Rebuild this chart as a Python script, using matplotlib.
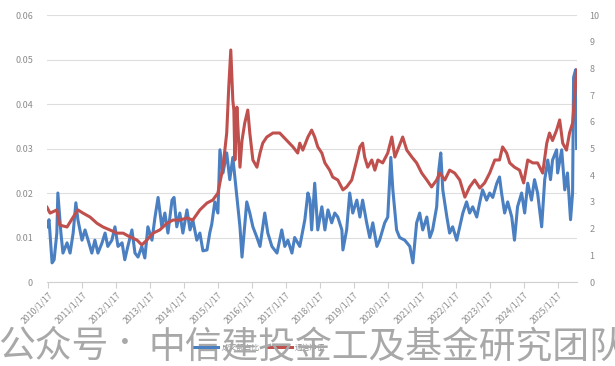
import matplotlib
matplotlib.use("Agg")
import numpy as np
from matplotlib import pyplot as plt

plt.rcParams['font.family'] = ['Noto Sans CJK SC', 'DejaVu Sans']

# blue series (left axis), decimal years
blue_t = [2010.01, 2010.07, 2010.16, 2010.22, 2010.30, 2010.33, 2010.42, 2010.48, 2010.60, 2010.69,
          2010.78, 2010.86, 2010.92, 2011.04, 2011.13, 2011.22, 2011.33, 2011.42, 2011.51, 2011.63,
          2011.72, 2011.80, 2011.92, 2012.01, 2012.10, 2012.22, 2012.30, 2012.39, 2012.51, 2012.60,
          2012.69, 2012.80, 2012.89, 2012.98, 2013.10, 2013.19, 2013.28, 2013.39, 2013.48, 2013.57,
          2013.69, 2013.75, 2013.83, 2013.92, 2014.01, 2014.13, 2014.22, 2014.30, 2014.42, 2014.51,
          2014.60, 2014.72, 2014.80, 2014.86, 2014.95, 2015.04, 2015.10, 2015.19, 2015.30, 2015.39,
          2015.48, 2015.60, 2015.69, 2015.75, 2015.89, 2015.98, 2016.07, 2016.19, 2016.28, 2016.42,
          2016.51, 2016.63, 2016.78, 2016.92, 2017.01, 2017.10, 2017.22, 2017.30, 2017.45, 2017.60,
          2017.69, 2017.75, 2017.80, 2017.89, 2017.98, 2018.10, 2018.19, 2018.28, 2018.39, 2018.48,
          2018.57, 2018.69, 2018.72, 2018.83, 2018.92, 2019.01, 2019.13, 2019.22, 2019.30, 2019.42,
          2019.51, 2019.60, 2019.72, 2019.80, 2019.95, 2020.04, 2020.13, 2020.19, 2020.30, 2020.39,
          2020.54, 2020.69, 2020.78, 2020.89, 2020.98, 2021.07, 2021.19, 2021.28, 2021.36, 2021.48,
          2021.54, 2021.60, 2021.66, 2021.78, 2021.86, 2021.95, 2022.07, 2022.16, 2022.25, 2022.36,
          2022.45, 2022.54, 2022.66, 2022.75, 2022.83, 2022.95, 2023.04, 2023.13, 2023.25, 2023.33,
          2023.39, 2023.48, 2023.57, 2023.69, 2023.77, 2023.86, 2023.98, 2024.07, 2024.16, 2024.27,
          2024.36, 2024.45, 2024.57, 2024.66, 2024.75, 2024.83, 2024.89, 2025.01, 2025.04, 2025.16,
          2025.25, 2025.33, 2025.42, 2025.48, 2025.51, 2025.57, 2025.60]
blue_v = [0.0124, 0.014, 0.0043, 0.005, 0.011, 0.020, 0.011, 0.0065, 0.0088, 0.0065,
          0.011, 0.0178, 0.014, 0.0094, 0.0117, 0.0094, 0.0065, 0.0094, 0.0065, 0.0088,
          0.011, 0.008, 0.0094, 0.0124, 0.008, 0.0088, 0.005, 0.008, 0.0117, 0.0065,
          0.0056, 0.008, 0.0054, 0.0124, 0.0094, 0.0146, 0.019, 0.0124, 0.0155, 0.011,
          0.0184, 0.019, 0.0124, 0.0155, 0.011, 0.0162, 0.0117, 0.014, 0.0094, 0.011,
          0.007, 0.0072, 0.011, 0.013, 0.018, 0.0155, 0.0297, 0.0245, 0.029, 0.023,
          0.028, 0.019, 0.0124, 0.0056, 0.018, 0.0155, 0.0124, 0.010, 0.008, 0.0155,
          0.011, 0.008, 0.0065, 0.0117, 0.008, 0.0094, 0.0065, 0.010, 0.008, 0.014,
          0.020, 0.0184, 0.0117, 0.0222, 0.0117, 0.0169, 0.0117, 0.0162, 0.0133, 0.0155,
          0.0146, 0.0117, 0.0072, 0.0117, 0.020, 0.0155, 0.0184, 0.0146, 0.0184, 0.0133,
          0.010, 0.0133, 0.008, 0.0094, 0.0133, 0.0146, 0.028, 0.0207, 0.0117, 0.010,
          0.0094, 0.008, 0.0043, 0.0133, 0.0155, 0.0117, 0.0146, 0.010, 0.0117, 0.0169,
          0.025, 0.029, 0.0207, 0.0146, 0.011, 0.0124, 0.0094, 0.0124, 0.0155, 0.018,
          0.0155, 0.0169, 0.0146, 0.018, 0.0207, 0.0184, 0.020, 0.019, 0.0222, 0.0236,
          0.020, 0.0155, 0.018, 0.0146, 0.0094, 0.0169, 0.020, 0.0155, 0.0222, 0.0184,
          0.023, 0.020, 0.0124, 0.023, 0.0274, 0.023, 0.0274, 0.0297, 0.0245, 0.0297,
          0.0207, 0.0245, 0.014, 0.020, 0.046, 0.0477, 0.030]

# red series (right axis)
red_t = [2010.01, 2010.10, 2010.30, 2010.39, 2010.60, 2010.78, 2010.92, 2011.07, 2011.28, 2011.48,
         2011.66, 2011.86, 2012.07, 2012.25, 2012.45, 2012.66, 2012.80, 2012.95, 2013.13, 2013.33,
         2013.54, 2013.72, 2013.92, 2014.13, 2014.30, 2014.51, 2014.72, 2014.89, 2015.04, 2015.19,
         2015.30, 2015.36, 2015.42, 2015.48, 2015.51, 2015.54, 2015.60, 2015.63, 2015.69, 2015.75,
         2015.83, 2015.92, 2015.98, 2016.07, 2016.19, 2016.28, 2016.36, 2016.48, 2016.66, 2016.86,
         2017.07, 2017.25, 2017.39, 2017.45, 2017.54, 2017.69, 2017.80, 2017.89, 2017.98, 2018.10,
         2018.19, 2018.33, 2018.42, 2018.57, 2018.72, 2018.83, 2018.98, 2019.13, 2019.22, 2019.30,
         2019.36, 2019.45, 2019.57, 2019.66, 2019.75, 2019.89, 2020.04, 2020.16, 2020.25, 2020.33,
         2020.48, 2020.60, 2020.75, 2020.89, 2021.04, 2021.19, 2021.33, 2021.48, 2021.57, 2021.72,
         2021.86, 2022.01, 2022.16, 2022.31, 2022.45, 2022.60, 2022.75, 2022.89, 2023.04, 2023.19,
         2023.33, 2023.42, 2023.54, 2023.63, 2023.77, 2023.92, 2024.04, 2024.16, 2024.31, 2024.45,
         2024.60, 2024.72, 2024.80, 2024.89, 2025.01, 2025.10, 2025.19, 2025.30, 2025.39, 2025.48,
         2025.54, 2025.60]
red_v = [2.8, 2.58, 2.7, 2.13, 2.06, 2.43, 2.7, 2.58, 2.43, 2.2,
         2.06, 1.95, 1.83, 1.83, 1.69, 1.57, 1.39, 1.57, 1.83, 1.95,
         2.2, 2.32, 2.32, 2.4, 2.32, 2.7, 2.96, 3.07, 3.33, 4.3,
         5.58, 7.3, 8.69, 6.8, 6.44, 4.57, 6.55, 5.8, 4.3, 5.3,
         5.95, 6.44, 5.58, 4.57, 4.3, 4.83, 5.2, 5.43, 5.58, 5.58,
         5.3, 5.06, 4.83, 5.2, 4.94, 5.43, 5.69, 5.43, 5.06, 4.83,
         4.46, 4.19, 3.93, 3.82, 3.45, 3.56, 3.82, 4.57, 5.06, 5.2,
         4.68, 4.3, 4.57, 4.19, 4.57, 4.46, 4.83, 5.43, 4.68, 4.94,
         5.43, 4.94, 4.68, 4.46, 4.08, 3.82, 3.56, 3.82, 4.08, 3.82,
         4.19, 4.08, 3.82, 3.18, 3.56, 3.82, 3.52, 3.71, 4.08, 4.57,
         4.57, 5.06, 4.83, 4.46, 4.3, 4.19, 3.71, 4.57, 4.46, 4.46,
         4.08, 5.2, 5.58, 5.3, 5.69, 6.07, 5.2, 4.94, 5.58, 5.95,
         6.93, 7.94]

years = list(range(2010, 2026))
tick_labels = [f"{y}/1/17" for y in years]
blue_label = "成交额占比"
red_label = "通信净值"

fig = plt.figure(figsize=(6.15, 3.66), dpi=100)
fig.patch.set_facecolor("white")
ax = fig.add_axes([0.0764, 0.2295, 0.8618, 0.7295])
ax2 = ax.twinx()

grey = "#8c8c8c"

l1, = ax.plot(blue_t, blue_v, color="#4a7fc1", linewidth=2.2, label=blue_label)
l2, = ax2.plot(red_t, red_v, color="#c0504d", linewidth=2.2, label=red_label)

ax.set_xlim(2010.01, 2025.61)
ax.set_ylim(0, 0.06)
ax2.set_ylim(0, 10)
ax.set_yticks(np.arange(0, 0.061, 0.01))
ax.set_yticklabels(["0", "0.01", "0.02", "0.03", "0.04", "0.05", "0.06"])
ax2.set_yticks(range(0, 11))

ax.set_xticks([y + 0.04 for y in years])
ax.set_xticklabels(tick_labels, rotation=45, ha="right", rotation_mode="anchor")

ax.grid(axis="y", color="#dedede", linewidth=0.8)
ax.set_axisbelow(True)

for a in (ax, ax2):
    for s in ("top", "left", "right", "bottom"):
        a.spines[s].set_visible(False)
ax.spines["bottom"].set_visible(True)
ax.spines["bottom"].set_color("#d0d0d0")

ax.tick_params(axis="x", colors="#d0d0d0", length=4, width=0.8, labelsize=6.3, labelcolor=grey, pad=2)
ax.tick_params(axis="y", length=0, labelsize=6.5, labelcolor=grey, pad=10)
ax2.tick_params(axis="y", length=0, labelsize=6.5, labelcolor=grey, pad=9)

leg = fig.legend(handles=[l1, l2], loc="center", bbox_to_anchor=(0.422, 0.05), ncol=2,
                 frameon=False, fontsize=5.5, handlelength=3.2, columnspacing=1.0, handletextpad=0.4)
for t in leg.get_texts():
    t.set_color(grey)

# watermark over the legend
wm = dict(color="#a8a8a8", va="bottom", zorder=10, weight="light",
          family=["Noto Sans CJK SC", "DejaVu Sans"])
fig.text(-0.003, 0.0, "公众号", ha="left", fontsize=26.5, **wm)
fig.text(125 / 615, 0.02, "·", ha="center", fontsize=20, **wm)
fig.text(148 / 615, 0.0, "中信建投金工及基金研究团队", ha="left", fontsize=26.5, **wm)

fig.savefig("out.png", dpi=100)
